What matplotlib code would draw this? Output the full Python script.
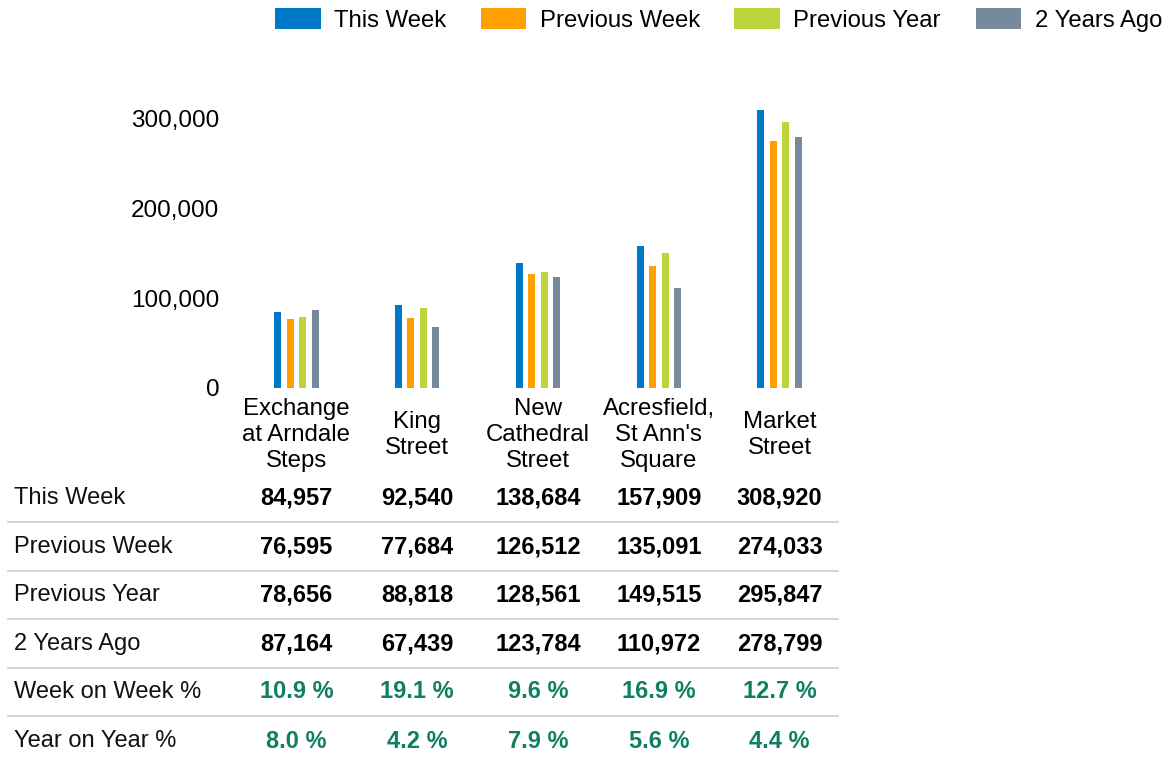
import matplotlib.pyplot as plt
from matplotlib.lines import Line2D
from matplotlib.transforms import blended_transform_factory
import numpy as np

plt.rcParams["font.family"] = ["Liberation Sans", "DejaVu Sans"]

# data
locations = ["Exchange\nat Arndale\nSteps", "King\nStreet", "New\nCathedral\nStreet",
             "Acresfield,\nSt Ann's\nSquare", "Market\nStreet"]
series_names = ["This Week", "Previous Week", "Previous Year", "2 Years Ago"]
this_week = [84957, 92540, 138684, 157909, 308920]
previous_week = [76595, 77684, 126512, 135091, 274033]
previous_year = [78656, 88818, 128561, 149515, 295847]
two_years_ago = [87164, 67439, 123784, 110972, 278799]
week_on_week = [10.9, 19.1, 9.6, 16.9, 12.7]
year_on_year = [8.0, 4.2, 7.9, 5.6, 4.4]

colors = ["#0078c8", "#ffa000", "#bdd53a", "#768a9c"]
pct_color = "#0e7f62"

W, H = 1164, 760
fig = plt.figure(figsize=(W / 100, H / 100), dpi=100)

# bar chart
ax = fig.add_axes([236 / W, (H - 388) / H, 604 / W, 315 / H])
x = np.arange(len(locations))
all_series = [this_week, previous_week, previous_year, two_years_ago]
offsets = (np.arange(4) - 1.5) * 0.103
handles = []
for vals, off, col, name in zip(all_series, offsets, colors, series_names):
    b = ax.bar(x + off, vals, width=0.058, color=col, label=name)
    handles.append(b)

ax.set_xlim(-0.5, 4.5)
ax.set_ylim(0, 350000)
ax.set_yticks([0, 100000, 200000, 300000])
ax.set_yticklabels([f"{v:,}" for v in [0, 100000, 200000, 300000]])
ax.set_xticks(x)
ax.set_xticklabels(locations, fontsize=17.3, linespacing=1.24)
for lbl in ax.get_xticklabels():
    lbl.set_verticalalignment("center")
ax.tick_params(axis="x", length=0, pad=34)
ax.tick_params(axis="y", length=0, pad=12, labelsize=17.5)
for s in ax.spines.values():
    s.set_visible(False)

fig.legend(handles, series_names, loc="center right",
           bbox_to_anchor=(1162 / W, 1 - 20 / H), ncol=4, frameon=False,
           fontsize=17.2, handlelength=1.92, handleheight=0.95,
           handletextpad=0.55, columnspacing=1.45, borderaxespad=0, borderpad=0)

# table below
tr = blended_transform_factory(ax.transData, fig.transFigure)
row_labels = ["This Week", "Previous Week", "Previous Year", "2 Years Ago",
              "Week on Week %", "Year on Year %"]
row_y = [498, 547, 595, 644, 692, 741]
rows = [[f"{v:,}" for v in s] for s in all_series]
rows += [[f"{v:.1f} %" for v in week_on_week], [f"{v:.1f} %" for v in year_on_year]]

for i, (lab, yp, vals) in enumerate(zip(row_labels, row_y, rows)):
    yf = 1 - yp / H
    fig.text(14 / W, yf, lab, ha="left", va="center", fontsize=17, color="#111111")
    col = "#000000" if i < 4 else pct_color
    for xi, v in zip(x, vals):
        fig.text(xi, yf, v, transform=tr, ha="center", va="center",
                 fontsize=17, fontweight="bold", color=col)
    if i < len(row_labels) - 1:
        ly = 1 - (yp + 23.5) / H
        fig.add_artist(Line2D([8 / W, 838 / W], [ly, ly], transform=fig.transFigure,
                              color="#cccccc", lw=1.2))

fig.savefig("out.png", dpi=100)
